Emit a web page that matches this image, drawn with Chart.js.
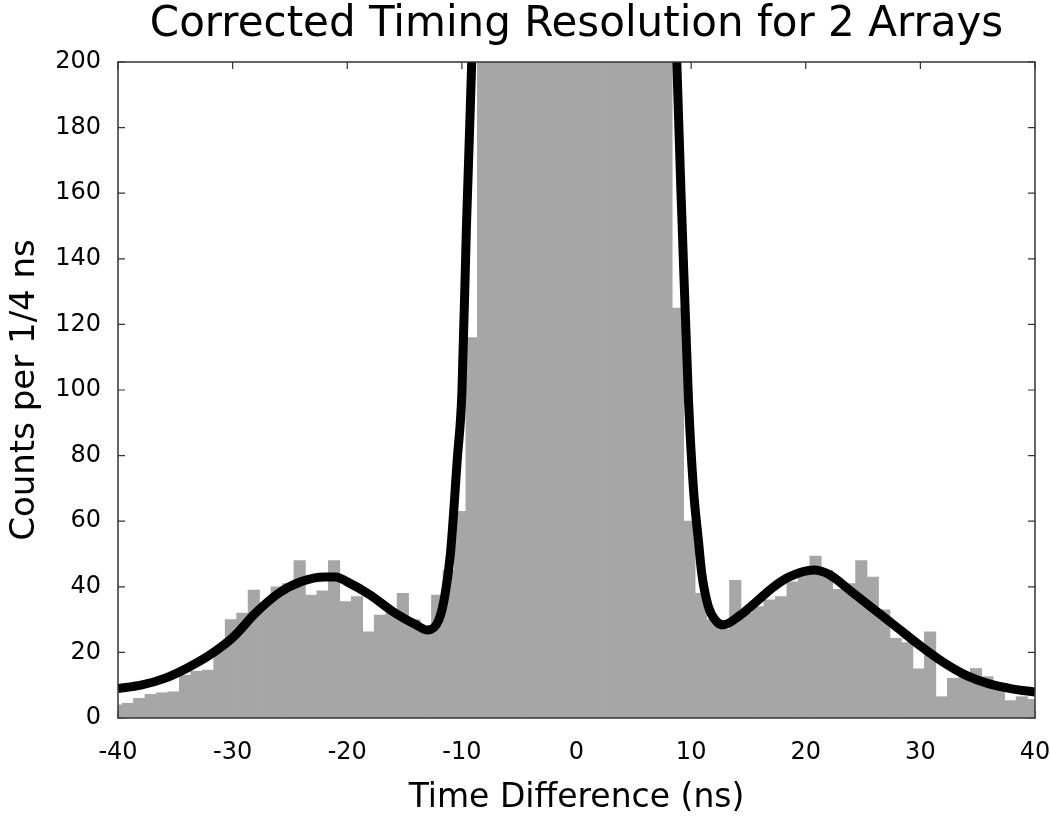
<!DOCTYPE html>
<html lang="en">
<head>
    <meta charset="UTF-8">
    <title>Corrected Timing Resolution for 2 Arrays</title>
    <script src="https://cdn.jsdelivr.net/npm/chart.js"></script>
    <style>
        html, body { margin: 0; padding: 0; background: #fff; }
        #wrap { width: 1050px; height: 820px; }
    </style>
</head>
<body>
    <div id="wrap"><canvas id="myChart" width="1050" height="820"></canvas></div>

    <script>
        // histogram bins (centre of each 1 ns bin) and counts
        const binCenters = [
            -40.15, -39.15, -38.15, -37.15, -36.15, -35.15, -34.15, -33.15, -32.15, -31.15,
            -30.15, -29.15, -28.15, -27.15, -26.15, -25.15, -24.15, -23.15, -22.15, -21.15,
            -20.15, -19.15, -18.15, -17.15, -16.15, -15.15, -14.15, -13.15, -12.15, -11.15,
            -10.15, -9.15, -8.15, -7.15, -6.15, -5.15, -4.15, -3.15, -2.15, -1.15,
            -0.15, 0.85, 1.85, 2.85, 3.85, 4.85, 5.85, 6.85, 7.85, 8.85,
            9.85, 10.85, 11.85, 12.85, 13.85, 14.85, 15.85, 16.85, 17.85, 18.85,
            19.85, 20.85, 21.85, 22.85, 23.85, 24.85, 25.85, 26.85, 27.85, 28.85,
            29.85, 30.85, 31.85, 32.85, 33.85, 34.85, 35.85, 36.85, 37.85, 38.85,
            39.85
        ];
        const binCounts = [
            4, 4.5, 6, 7.2, 7.7, 8, 13, 14.3, 14.6, 21,
            30, 32, 39, 35, 40, 41, 48, 37.5, 38.8, 48,
            35.5, 37, 26.3, 31.4, 32, 38, 30, 27, 37.5, 45,
            63, 116, 230, 420, 780, 1300, 1900, 2500, 3000, 3300,
            3400, 3300, 2900, 2400, 1800, 1200, 700, 400, 240, 125,
            60, 38, 30, 27, 42, 32, 34, 36, 37, 41.5,
            44, 49.4, 45, 39.2, 41, 48, 43, 33, 24.3, 23,
            15, 26.3, 6.5, 12.1, 13, 15.1, 12.6, 9.5, 5.3, 6.5,
            5.7
        ];

        // fitted curve
        const fitX = [-40, -38, -36, -34, -32, -30, -28, -26, -24, -22, -21, -20, -18, -16, -14, -13, -12, -11.5, -11, -10.4, -10, -9.6, -9.14, -8.5, -7, -4, 0,
                      4, 7, 8.2, 8.75, 9.24, 9.77, 10.2, 10.64, 10.93, 11.5, 12.2, 12.8, 14.3, 15.7, 17.2, 18.6, 20.7, 22, 24, 26, 28, 30, 32, 34, 36, 38, 40];
        const fitY = [9, 10, 12, 15.2, 19.2, 24.5, 32, 38, 41.6, 43, 43, 41.5, 37.5, 32.4, 28.4, 26.8, 30, 37, 50, 79, 99, 150, 200, 290, 700, 2000, 3000,
                      2000, 700, 290, 200, 148, 97, 70, 54, 44, 34, 29.5, 28.4, 31.4, 35.5, 40, 43.1, 45.1, 43.8, 38.5, 33, 27.5, 22, 17, 13, 10.4, 8.9, 7.9];

        const xTicks = [-40, -30, -20, -10, 0, 10, 20, 30, 40];
        const yTicks = [0, 20, 40, 60, 80, 100, 120, 140, 160, 180, 200];

        const fontFamily = "'DejaVu Sans', Arial, sans-serif";

        // frame round the plot with inward tick marks (matlab style)
        const framePlugin = {
            id: "frame",
            beforeDatasetsDraw(c) {
                const ctx = c.ctx, a = c.chartArea;
                const xs = c.scales.x, ys = c.scales.y;
                ctx.save();
                ctx.strokeStyle = "#333";
                ctx.lineWidth = 1.2;
                ctx.beginPath();
                xTicks.forEach(v => {
                    const px = xs.getPixelForValue(v);
                    ctx.moveTo(px, a.bottom); ctx.lineTo(px, a.bottom - 7);
                    ctx.moveTo(px, a.top); ctx.lineTo(px, a.top + 7);
                });
                yTicks.forEach(v => {
                    const py = ys.getPixelForValue(v);
                    ctx.moveTo(a.left, py); ctx.lineTo(a.left + 7, py);
                    ctx.moveTo(a.right, py); ctx.lineTo(a.right - 7, py);
                });
                ctx.stroke();
                ctx.restore();
            },
            afterDatasetsDraw(c) {
                const ctx = c.ctx, a = c.chartArea;
                ctx.save();
                ctx.strokeStyle = "#333";
                ctx.lineWidth = 1.5;
                ctx.strokeRect(a.left, a.top, a.right - a.left, a.bottom - a.top);
                ctx.restore();
            }
        };

        const chart = new Chart(document.getElementById("myChart"), {
            type: "bar",
            data: {
                datasets: [
                    {
                        type: "line",
                        label: "fit",
                        data: fitX.map((x, i) => ({ x: x, y: fitY[i] })),
                        borderColor: "#000",
                        borderWidth: 9,
                        pointRadius: 0,
                        cubicInterpolationMode: "monotone",
                        clip: 0,
                        order: 0
                    },
                    {
                        type: "bar",
                        label: "counts",
                        data: binCenters.map((x, i) => ({ x: x, y: binCounts[i] })),
                        backgroundColor: "#a6a6a6",
                        borderColor: "#a6a6a6",
                        borderWidth: 0,
                        barPercentage: 1.0,
                        categoryPercentage: 1.0,
                        clip: 0,
                        order: 1
                    }
                ]
            },
            options: {
                responsive: false,
                animation: false,
                layout: { padding: { left: 0, right: 15, top: 0, bottom: 0 } },
                plugins: {
                    legend: { display: false },
                    tooltip: { enabled: false },
                    title: {
                        display: true,
                        fullSize: false,
                        text: "Corrected Timing Resolution for 2 Arrays",
                        color: "#000",
                        font: { family: fontFamily, size: 42, weight: "normal", lineHeight: 1.0 },
                        padding: { top: 4, bottom: 16 }
                    }
                },
                scales: {
                    x: {
                        type: "linear",
                        min: -40,
                        max: 40,
                        offset: false,
                        grid: { display: false },
                        border: { display: false },
                        afterBuildTicks: s => { s.ticks = xTicks.map(v => ({ value: v })); },
                        afterFit: s => { s.height = 102; s.paddingRight = 0; s.paddingLeft = 0; },
                        ticks: {
                            color: "#000",
                            padding: 12,
                            maxRotation: 0,
                            font: { family: fontFamily, size: 24 }
                        },
                        title: {
                            display: true,
                            text: "Time Difference (ns)",
                            color: "#000",
                            font: { family: fontFamily, size: 33 },
                            padding: { top: 0, bottom: 2 }
                        }
                    },
                    y: {
                        min: 0,
                        max: 200,
                        grid: { display: false },
                        border: { display: false },
                        afterBuildTicks: s => { s.ticks = yTicks.map(v => ({ value: v })); },
                        afterFit: s => { s.width = 118; },
                        ticks: {
                            color: "#000",
                            padding: 9,
                            font: { family: fontFamily, size: 24 }
                        },
                        title: {
                            display: true,
                            text: "Counts per 1/4 ns",
                            color: "#000",
                            font: { family: fontFamily, size: 34 },
                            padding: { top: 5, bottom: 0 }
                        }
                    }
                }
            },
            plugins: [framePlugin]
        });
    </script>
</body>
</html>
